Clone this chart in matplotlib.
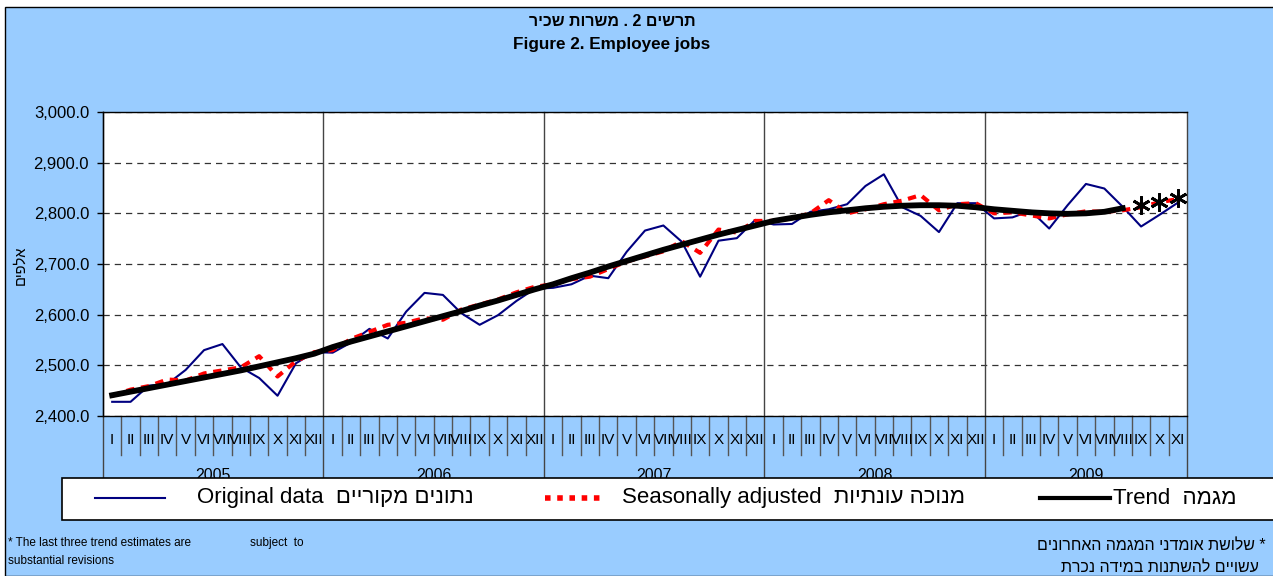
import numpy as np
import matplotlib
matplotlib.use('Agg')
import matplotlib.pyplot as plt
from matplotlib.patches import Rectangle
from matplotlib.lines import Line2D
from matplotlib.ticker import FuncFormatter

months = ['I', 'II', 'III', 'IV', 'V', 'VI', 'VII', 'VIII', 'IX', 'X', 'XI', 'XII']
years = ['2005', '2006', '2007', '2008', '2009']
n_months = 59  # 2005 I .. 2009 XI

original = [2428, 2428, 2460, 2463, 2491, 2530, 2542, 2496, 2475, 2440, 2504, 2526,
            2525, 2545, 2572, 2553, 2606, 2643, 2639, 2603, 2580, 2599, 2627, 2651,
            2653, 2660, 2677, 2672, 2724, 2766, 2776, 2744, 2675, 2746, 2751, 2787,
            2778, 2779, 2803, 2808, 2818, 2854, 2877, 2812, 2795, 2763, 2820, 2820,
            2790, 2792, 2805, 2770, 2816, 2858, 2849, 2813, 2774, 2797, 2821]

seasonal = [2440, 2452, 2459, 2472, 2470, 2484, 2490, 2496, 2518, 2478, 2508, 2526,
            2530, 2552, 2566, 2580, 2584, 2593, 2590, 2610, 2620, 2630, 2644, 2655,
            2660, 2670, 2675, 2690, 2705, 2715, 2725, 2745, 2722, 2768, 2762, 2785,
            2785, 2790, 2800, 2826, 2800, 2808, 2818, 2825, 2836, 2806, 2818, 2820,
            2800, 2802, 2796, 2790, 2798, 2804, 2803, 2806, 2812, 2822, 2828]

trend = [2441, 2448, 2455, 2462, 2469, 2476, 2483, 2490, 2498, 2506, 2514, 2523,
         2536, 2547, 2557, 2567, 2577, 2587, 2597, 2607, 2618, 2628, 2639, 2650,
         2660, 2672, 2683, 2695, 2706, 2717, 2728, 2738, 2748, 2758, 2767, 2776,
         2785, 2791, 2797, 2802, 2806, 2810, 2813, 2815, 2816, 2816, 2815, 2812,
         2808, 2805, 2802, 2800, 2799, 2800, 2803, 2810]
trend_last = [2816, 2823, 2830]  # last three provisional estimates

W, H = 1273, 576
BLUE_BG = '#99CCFF'
main_font = ['Liberation Sans', 'DejaVu Sans']
plt.rcParams['font.family'] = main_font


def fx(x):
    return x / W


def fy(y):
    return 1 - y / H


def rtl(s):
    # matplotlib has no bidi support, so put hebrew in visual order
    return s[::-1]


fig = plt.figure(figsize=(W / 100, H / 100), dpi=100)
fig.patch.set_facecolor('white')
fig.add_artist(Rectangle((fx(5), 0), 1.0, fy(7), transform=fig.transFigure,
                         facecolor=BLUE_BG, edgecolor='black', lw=1, zorder=-1))

ax = fig.add_axes([fx(103), fy(416), fx(1187) - fx(103), (416 - 112) / H])
ax.set_facecolor('white')
x = np.arange(n_months)

ax.plot(x, original, color='#000080', lw=1.5, zorder=3)
ax.plot(x, seasonal, color='red', lw=3, linestyle=(0, (2, 1.6)), zorder=4)
ax.plot(x[:len(trend)], trend, color='black', lw=4.2, zorder=5)
ax.plot(x[len(trend):], trend_last, linestyle='none', marker=(6, 2, 0),
        markersize=13, markeredgewidth=2, color='black', zorder=6)

ax.set_xlim(-0.5, n_months - 0.5)
ax.set_ylim(2400, 3000)
ax.set_yticks(range(2400, 3001, 100))
ax.yaxis.set_major_formatter(FuncFormatter(lambda v, p: '{:,.1f}'.format(v)))
ax.tick_params(axis='y', direction='out', length=4, width=1, labelsize=12, pad=6)
ax.set_xticks([])
ax.yaxis.grid(True, linestyle=(0, (5, 4)), color='#333333', lw=0.9)
ax.set_axisbelow(True)
for side in ['left', 'top', 'bottom']:
    ax.spines[side].set_color('black')
    ax.spines[side].set_linewidth(1)
ax.spines['right'].set_visible(False)

# category axis: month ticks, year separators, labels
xt = ax.get_xaxis_transform()
for i in range(n_months + 1):
    xb = i - 0.5
    if i % 12 == 0 or i == n_months:
        ax.plot([xb, xb], [1, -0.25], transform=xt, color='#444444', lw=1,
                clip_on=False, zorder=2)
    else:
        ax.plot([xb, xb], [0, -0.128], transform=xt, color='#555555', lw=1,
                clip_on=False)
for i in range(n_months):
    ax.text(i, -0.079, months[i % 12], transform=xt, ha='center', va='center',
            fontsize=11)
for k, yr in enumerate(years):
    end = min(12 * (k + 1), n_months)
    ax.text((12 * k + end - 1) / 2, -0.197, yr, transform=xt, ha='center',
            va='center', fontsize=11.5)

# titles
fig.text(fx(612), fy(22), rtl('תרשים 2 . משרות שכיר'), ha='center', va='center',
         fontsize=11.5, fontweight='bold')
fig.text(fx(612), fy(45), 'Figure 2. Employee jobs', ha='center', va='center',
         fontsize=12.3, fontweight='bold')
fig.text(fx(20), fy(265), rtl('אלפים'), rotation=90, ha='center', va='center',
         fontsize=10.5)

# legend box
fig.add_artist(Rectangle((fx(62), fy(520)), 1.0, (520 - 478) / H, transform=fig.transFigure,
                         facecolor='white', edgecolor='black', lw=1.2, zorder=6))
ly = fy(498)
fig.add_artist(Line2D([fx(95), fx(165)], [ly, ly], transform=fig.transFigure,
                      color='#000080', lw=1.5, zorder=7))
fig.add_artist(Line2D([fx(545), fx(605)], [ly, ly], transform=fig.transFigure,
                      color='red', lw=4, linestyle=(0, (1, 1.2)), zorder=7))
fig.add_artist(Line2D([fx(1040), fx(1110)], [ly, ly], transform=fig.transFigure,
                      color='black', lw=3, zorder=7))
leg_items = [(197, 'Original data  ' + rtl('נתונים מקוריים')),
             (622, 'Seasonally adjusted  ' + rtl('מנוכה עונתיות')),
             (1113, 'Trend  ' + rtl('מגמה'))]
for xpos, label in leg_items:
    fig.text(fx(xpos), ly, label, ha='left', va='center', fontsize=16, zorder=7)

# footnotes
fig.text(fx(8), fy(543), '* The last three trend estimates are', ha='left', va='center',
         fontsize=8.5)
fig.text(fx(250), fy(543), 'subject  to', ha='left', va='center', fontsize=8.5)
fig.text(fx(8), fy(561), 'substantial revisions', ha='left', va='center', fontsize=8.5)
fig.text(fx(1266), fy(546), rtl('* שלושת אומדני המגמה האחרונים'), ha='right',
         va='center', fontsize=11.5)
fig.text(fx(1259), fy(567), rtl('עשויים להשתנות במידה נכרת'), ha='right',
         va='center', fontsize=11.5)

fig.savefig('out.png', dpi=100)
